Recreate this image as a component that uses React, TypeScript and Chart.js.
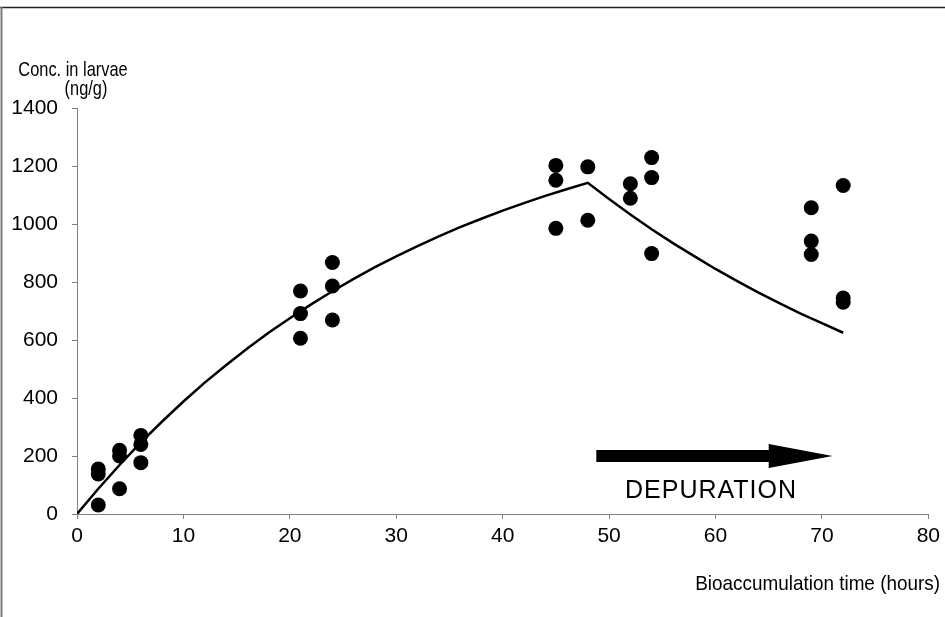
import React, { useEffect, useRef } from "react";
import { Chart, registerables } from "chart.js";

Chart.register(...registerables);

// Measured samples (time in hours, concentration ng/g)
const sampleTimes = [2, 2, 2, 4, 4, 4, 6, 6, 6, 21, 21, 21, 24, 24, 24, 45, 45, 45, 48, 48, 52, 52, 54, 54, 54, 69, 69, 69, 72, 72, 72];
const sampleConc = [155, 138, 31, 220, 200, 87, 271, 240, 177, 769, 691, 606, 867, 786, 669, 1202, 1151, 985, 1197, 1013, 1139, 1089, 1229, 1160, 898, 1056, 941, 895, 1133, 745, 730];

// Fitted model curve
const fitTimes = [0, 2, 4, 6, 8, 10, 12, 14, 16, 18, 20, 22, 24, 26, 28, 30, 32, 34, 36, 38, 40, 42, 44, 46, 48, 50, 52, 54, 56, 58, 60, 62, 64, 66, 68, 70, 72];
const fitConc = [0, 87, 169, 247, 319, 388, 453, 513, 571, 625, 675, 723, 768, 811, 851, 888, 924, 957, 989, 1018, 1046, 1072, 1097, 1120, 1142, 1086, 1033, 982, 934, 889, 845, 804, 764, 727, 691, 658, 625];

// Axis ticks
const xTicks = [0, 10, 20, 30, 40, 50, 60, 70, 80];
const yTicks = [0, 200, 400, 600, 800, 1000, 1200, 1400];

// Depuration arrow (data coordinates)
const arrowStartX = 48.8;
const arrowHeadX = 65.0;
const arrowTipX = 71.0;
const arrowY = 200;
const arrowLabel = "DEPURATION";

const yTitleLines = ["Conc. in larvae", "(ng/g)"];
const xTitle = "Bioaccumulation time (hours)";

const FONT = "'Liberation Sans', Arial, sans-serif";

function condensedText(ctx: any, text: string, x: number, y: number, sx: number, align: string) {
  ctx.save();
  ctx.translate(x, y);
  ctx.scale(sx, 1);
  ctx.textAlign = align;
  ctx.fillText(text, 0, 0);
  ctx.restore();
}

const decorPlugin = {
  id: "decor",
  beforeDraw(chart: any) {
    const ctx = chart.ctx;
    ctx.save();
    ctx.fillStyle = "#fff";
    ctx.fillRect(0, 0, chart.width, chart.height);
    ctx.strokeStyle = "#222";
    ctx.lineWidth = 1.5;
    ctx.beginPath();
    ctx.moveTo(0, 7.5);
    ctx.lineTo(chart.width, 7.5);
    ctx.stroke();
    ctx.strokeStyle = "#7a7a7a";
    ctx.lineWidth = 2;
    ctx.beginPath();
    ctx.moveTo(1.5, 7);
    ctx.lineTo(1.5, chart.height);
    ctx.stroke();
    ctx.restore();
  },
  afterDraw(chart: any) {
    const ctx = chart.ctx;
    const xs = chart.scales.x;
    const ys = chart.scales.y;
    ctx.save();
    ctx.fillStyle = "#000";
    ctx.textBaseline = "alphabetic";
    ctx.font = `21px ${FONT}`;
    condensedText(ctx, yTitleLines[0], 73, 76, 0.78, "center");
    condensedText(ctx, yTitleLines[1], 86, 95, 0.78, "center");
    condensedText(ctx, xTitle, 940, 590, 0.9, "right");
    // arrow
    const x0 = xs.getPixelForValue(arrowStartX);
    const xh = xs.getPixelForValue(arrowHeadX);
    const xt = xs.getPixelForValue(arrowTipX);
    const yc = ys.getPixelForValue(arrowY);
    ctx.beginPath();
    ctx.moveTo(x0, yc - 6);
    ctx.lineTo(xh, yc - 6);
    ctx.lineTo(xh, yc - 12);
    ctx.lineTo(xt, yc);
    ctx.lineTo(xh, yc + 12);
    ctx.lineTo(xh, yc + 6);
    ctx.lineTo(x0, yc + 6);
    ctx.closePath();
    ctx.fill();
    ctx.font = `25px ${FONT}`;
    (ctx as any).letterSpacing = "1px";
    ctx.textAlign = "center";
    ctx.fillText(arrowLabel, 711, 498);
    ctx.restore();
  },
};

export default function App() {
  const ref = useRef<HTMLCanvasElement | null>(null);
  useEffect(() => {
    if (!ref.current) return;
    const chart = new Chart(ref.current, {
      type: "scatter",
      data: {
        datasets: [
          {
            label: "fit",
            data: fitTimes.map((t, i) => ({ x: t, y: fitConc[i] })),
            showLine: true,
            borderColor: "#000",
            borderWidth: 2.5,
            pointRadius: 0,
            tension: 0,
            order: 2,
          },
          {
            label: "samples",
            data: sampleTimes.map((t, i) => ({ x: t, y: sampleConc[i] })),
            backgroundColor: "#000",
            borderColor: "#000",
            pointRadius: 7.5,
            borderWidth: 0,
            order: 1,
          },
        ],
      },
      options: {
        responsive: false,
        animation: false,
        layout: { padding: { left: 0, right: 15, top: 108, bottom: 0 } },
        plugins: { legend: { display: false }, tooltip: { enabled: false } },
        scales: {
          x: {
            type: "linear",
            min: 0,
            max: 80,
            afterBuildTicks: (s: any) => {
              s.ticks = xTicks.map((v) => ({ value: v }));
            },
            afterFit: (s: any) => {
              s.height = 103;
            },
            ticks: { color: "#000", font: { family: FONT, size: 21 }, padding: 5, callback: (v: any) => String(v) },
            grid: { drawOnChartArea: false, drawTicks: true, tickLength: 5, color: "#808080" },
            border: { color: "#808080", width: 1 },
          },
          y: {
            type: "linear",
            min: 0,
            max: 1400,
            afterBuildTicks: (s: any) => {
              s.ticks = yTicks.map((v) => ({ value: v }));
            },
            afterFit: (s: any) => {
              s.width = 77;
            },
            ticks: { color: "#000", font: { family: FONT, size: 21 }, padding: 14, callback: (v: any) => String(v) },
            grid: { drawOnChartArea: false, drawTicks: true, tickLength: 5, color: "#808080" },
            border: { color: "#808080", width: 1 },
          },
        },
      },
      plugins: [decorPlugin],
    });
    return () => chart.destroy();
  }, []);
  return (
    <div style={{ position: "fixed", left: 0, top: 0, width: 945, height: 617, background: "#fff" }}>
      <canvas ref={ref} width={945} height={617} style={{ display: "block" }} />
    </div>
  );
}
